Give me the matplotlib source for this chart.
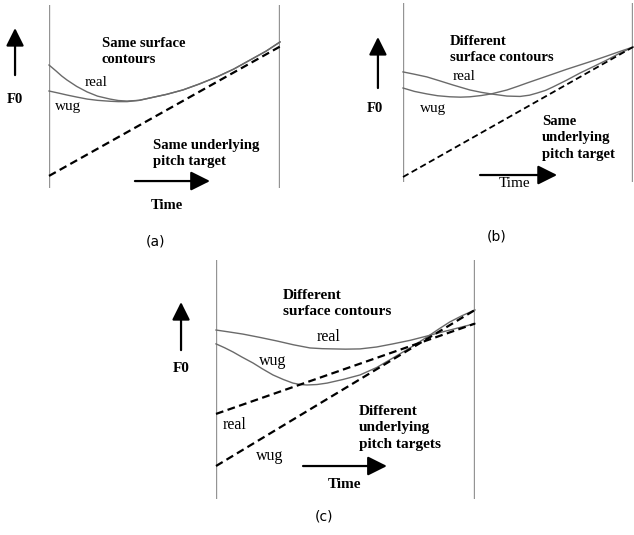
"""Schematic F0 contours vs. underlying pitch targets, three panels."""

import matplotlib
matplotlib.use("Agg")
import matplotlib.pyplot as plt

W, H = 634, 535

GREY_AXIS = "#949494"
GREY_CURVE = "#6a6a6a"
SERIF = "Liberation Serif"

# Panel (a): same surface contours, same target
A_T_REAL = [0.0, 0.03, 0.055, 0.078, 0.12, 0.165, 0.21, 0.264, 0.30, 0.338, 0.39,
            0.437, 0.51, 0.580, 0.65, 0.727, 0.80, 0.870, 0.94, 1.0]
A_F_REAL = [0.672, 0.640, 0.612, 0.590, 0.555, 0.525, 0.502, 0.486, 0.478, 0.475, 0.479,
            0.492, 0.512, 0.536, 0.568, 0.607, 0.650, 0.699, 0.748, 0.798]
A_T_WUG = [0.0, 0.04, 0.078, 0.12, 0.165, 0.21, 0.264, 0.30, 0.338, 0.39,
           0.437, 0.51, 0.580, 0.65, 0.727, 0.80, 0.870, 0.94, 1.0]
A_F_WUG = [0.530, 0.519, 0.508, 0.497, 0.486, 0.479, 0.474, 0.472, 0.472, 0.479,
           0.492, 0.512, 0.536, 0.568, 0.607, 0.650, 0.699, 0.748, 0.798]
A_T_TARGET = [0.0, 1.01]
A_F_TARGET = [0.066, 0.780]

# Panel (b): different surface contours, same target
B_T_REAL = [0.0, 0.05, 0.104, 0.16, 0.217, 0.291, 0.34, 0.383, 0.452, 0.509, 0.55,
            0.583, 0.62, 0.652, 0.71, 0.770, 0.83, 0.887, 0.94, 1.0]
B_F_REAL = [0.615, 0.602, 0.587, 0.565, 0.542, 0.514, 0.501, 0.492, 0.480, 0.478, 0.485,
            0.497, 0.512, 0.531, 0.568, 0.609, 0.646, 0.682, 0.718, 0.754]
B_T_WUG = [0.0, 0.05, 0.104, 0.15, 0.204, 0.25, 0.291, 0.34, 0.383, 0.452, 0.50,
           0.539, 0.60, 0.652, 0.71, 0.770, 0.83, 0.887, 0.94, 1.0]
B_F_WUG = [0.525, 0.506, 0.492, 0.482, 0.476, 0.474, 0.476, 0.483, 0.492, 0.514, 0.535,
           0.553, 0.580, 0.603, 0.629, 0.654, 0.679, 0.704, 0.728, 0.754]
B_T_TARGET = [0.0, 1.0]
B_F_TARGET = [0.028, 0.754]

# Panel (c): different surface contours, different targets
C_T_REAL = [0.0, 0.05, 0.104, 0.17, 0.236, 0.30, 0.363, 0.41, 0.452, 0.50, 0.556,
            0.62, 0.683, 0.75, 0.815, 0.86, 0.903, 0.95, 1.0]
C_F_REAL = [0.707, 0.699, 0.690, 0.676, 0.661, 0.645, 0.632, 0.629, 0.628, 0.627, 0.628,
            0.636, 0.649, 0.664, 0.682, 0.695, 0.707, 0.720, 0.734]
C_T_WUG = [0.0, 0.033, 0.066, 0.10, 0.143, 0.18, 0.220, 0.26, 0.297, 0.325, 0.351, 0.39,
           0.429, 0.49, 0.556, 0.62, 0.683, 0.75, 0.815, 0.86, 0.903, 0.95, 1.0]
C_F_WUG = [0.649, 0.633, 0.615, 0.594, 0.569, 0.544, 0.519, 0.500, 0.485, 0.479, 0.477, 0.479,
           0.485, 0.500, 0.519, 0.550, 0.590, 0.633, 0.678, 0.711, 0.741, 0.767, 0.791]
C_T_TARGET_REAL = [0.0, 1.0]
C_F_TARGET_REAL = [0.356, 0.734]
C_T_TARGET_WUG = [0.0, 1.0]
C_F_TARGET_WUG = [0.138, 0.791]


def panel_axes(fig, x0, ytop, w, h):
    """Axes placed by its pixel box; time and F0 both run 0..1 inside it."""
    ax = fig.add_axes([x0 / W, 1 - (ytop + h) / H, w / W, h / H])
    ax.set_xlim(0, 1)
    ax.set_ylim(0, 1)
    ax.axis("off")
    ax.axvline(0, color=GREY_AXIS, lw=1.7)
    ax.axvline(1, color=GREY_AXIS, lw=1.7)
    return ax


def arrow(ax, tail, tip, scale=12):
    ax.annotate("", xy=tip, xytext=tail, annotation_clip=False,
                arrowprops=dict(arrowstyle="-|>,head_length=0.9,head_width=0.45",
                                mutation_scale=scale, lw=1.6, color="black",
                                shrinkA=0, shrinkB=0))


def label(ax, t, f, s, size=10.5, bold=False, ha="center"):
    ax.text(t, f, s, fontsize=size, family=SERIF, ha=ha, va="center",
            fontweight="bold" if bold else "normal", linespacing=1.35,
            clip_on=False)


def caption(ax, t, f, s):
    ax.text(t, f, s, fontsize=10, family="DejaVu Sans", ha="center",
            va="center", clip_on=False)


def curve(ax, t, f):
    ax.plot(t, f, color=GREY_CURVE, lw=1.0, clip_on=False,
            solid_joinstyle="round")


def target(ax, t, f, lw=1.6):
    ax.plot(t, f, color="black", lw=lw, dashes=(3.5, 2), clip_on=False)


fig = plt.figure(figsize=(W / 100, H / 100), dpi=100)

# (a)
ax = panel_axes(fig, 49, 5, 231, 183)
curve(ax, A_T_REAL, A_F_REAL)
curve(ax, A_T_WUG, A_F_WUG)
target(ax, A_T_TARGET, A_F_TARGET)
arrow(ax, (-0.147, 0.617), (-0.147, 0.874))
label(ax, -0.147, 0.486, "F0", bold=True)
label(ax, 0.229, 0.746, "Same surface\ncontours", bold=True, ha="left")
label(ax, 0.156, 0.579, "real", size=11, ha="left")
label(ax, 0.026, 0.443, "wug", size=11, ha="left")
label(ax, 0.450, 0.189, "Same underlying\npitch target", bold=True, ha="left")
arrow(ax, (0.372, 0.038), (0.697, 0.038), scale=13)
label(ax, 0.511, -0.098, "Time", bold=True)
caption(ax, 0.459, -0.295, "(a)")

# (b)
ax = panel_axes(fig, 403, 3, 230, 179)
curve(ax, B_T_REAL, B_F_REAL)
curve(ax, B_T_WUG, B_F_WUG)
target(ax, B_T_TARGET, B_F_TARGET, lw=1.3)
arrow(ax, (-0.109, 0.525), (-0.109, 0.810))
label(ax, -0.122, 0.413, "F0", bold=True)
label(ax, 0.204, 0.740, "Different\nsurface contours", bold=True, ha="left")
label(ax, 0.217, 0.587, "real", size=11, ha="left")
label(ax, 0.074, 0.413, "wug", size=11, ha="left")
label(ax, 0.604, 0.246, "Same\nunderlying\npitch target", bold=True, ha="left")
arrow(ax, (0.335, 0.039), (0.670, 0.039), scale=13)
label(ax, 0.487, -0.011, "Time", size=11)
caption(ax, 0.409, -0.302, "(b)")

# (c)
ax = panel_axes(fig, 216, 260, 259, 239)
curve(ax, C_T_REAL, C_F_REAL)
curve(ax, C_T_WUG, C_F_WUG)
target(ax, C_T_TARGET_REAL, C_F_TARGET_REAL)
target(ax, C_T_TARGET_WUG, C_F_TARGET_WUG)
arrow(ax, (-0.135, 0.623), (-0.135, 0.824))
label(ax, -0.135, 0.548, "F0", size=11, bold=True)
label(ax, 0.259, 0.818, "Different\nsurface contours", size=11, bold=True, ha="left")
label(ax, 0.436, 0.678, "real", size=11.5)
label(ax, 0.220, 0.577, "wug", size=11.5)
label(ax, 0.073, 0.310, "real", size=11.5)
label(ax, 0.208, 0.180, "wug", size=11.5)
label(ax, 0.552, 0.299, "Different\nunderlying\npitch targets", size=11, bold=True, ha="left")
arrow(ax, (0.336, 0.138), (0.660, 0.138), scale=13)
label(ax, 0.498, 0.059, "Time", size=11, bold=True)
caption(ax, 0.417, -0.075, "(c)")

fig.savefig("out.png", dpi=100)
